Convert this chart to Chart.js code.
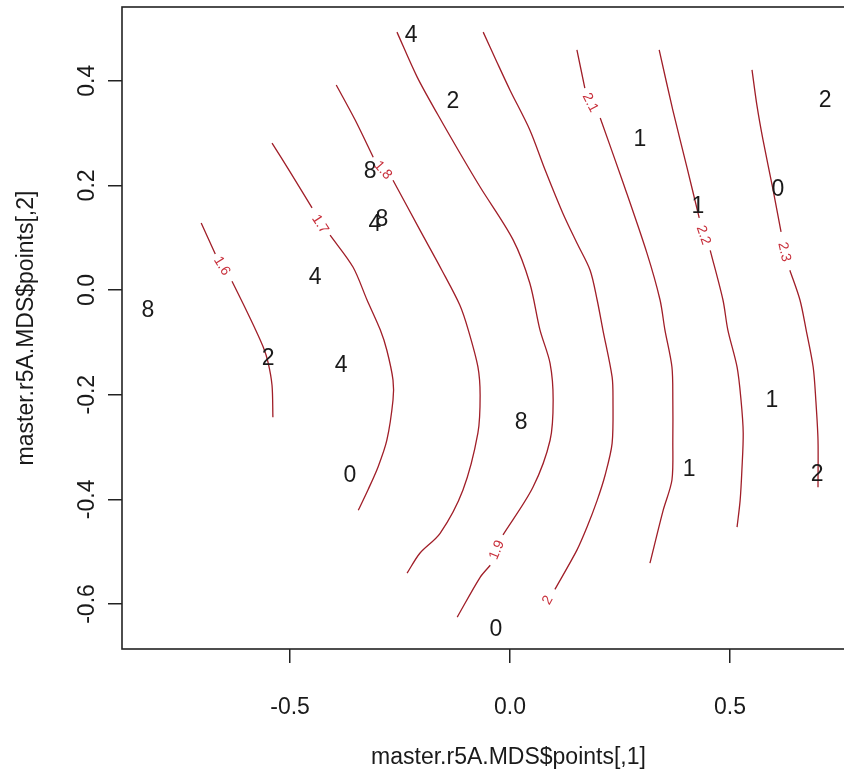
<!DOCTYPE html>
<html>
<head>
<meta charset="utf-8">
<title>master.r5A.MDS</title>
<style>
  html, body { margin: 0; padding: 0; background: #fff; overflow: hidden; }
  #wrap { width: 844px; height: 772px; overflow: hidden; }
  canvas { display: block; }
</style>
<script src="https://cdn.jsdelivr.net/npm/chart.js@4/dist/chart.umd.min.js"></script>
</head>
<body>
<div id="wrap"><canvas id="c" width="900" height="772"></canvas></div>
<script>
// MDS configuration: coordinates of each labelled item and its label
const pointX = [-0.823, -0.225, -0.130, -0.318, -0.307, -0.291, -0.443, -0.550, -0.384, -0.364,
                0.025, -0.032, 0.295, 0.716, 0.609, 0.427, 0.595, 0.407, 0.698];
const pointY = [-0.036, 0.489, 0.363, 0.229, 0.128, 0.138, 0.027, -0.128, -0.140, -0.352,
                -0.249, -0.646, 0.291, 0.365, 0.195, 0.163, -0.207, -0.340, -0.350];
const pointText = ['8', '4', '2', '8', '4', '8', '4', '2', '4', '0',
                   '8', '0', '1', '2', '0', '1', '1', '1', '2'];

// fitted surface contours (null = break where the level label sits)
const contourLevels = ['1.6', '1.7', '1.8', '1.9', '2', '2.1', '2.2', '2.3'];
const c16X = [-0.702, -0.670, null, -0.632, -0.605, -0.580, -0.561, -0.550, -0.541, -0.539];
const c16Y = [0.128, 0.069, null, 0.017, -0.029, -0.073, -0.109, -0.138, -0.182, -0.243];
const c17X = [-0.541, -0.500, -0.450, null, -0.409, -0.357, -0.325, -0.295, -0.280, -0.266, -0.266, -0.280, -0.300, -0.323, -0.345];
const c17Y = [0.281, 0.226, 0.157, null, 0.105, 0.044, -0.019, -0.076, -0.115, -0.172, -0.210, -0.287, -0.338, -0.382, -0.421];
const c18X = [-0.395, -0.352, -0.311, null, -0.266, -0.205, -0.155, -0.114, -0.095, -0.073, -0.068, -0.073, -0.107, -0.159, -0.205, -0.234];
const c18Y = [0.392, 0.325, 0.254, null, 0.210, 0.115, 0.038, -0.029, -0.076, -0.147, -0.201, -0.273, -0.382, -0.465, -0.503, -0.541];
const c19X = [-0.257, -0.211, -0.164, -0.114, -0.068, 0.007, 0.045, 0.068, 0.091, 0.098, 0.091, 0.052, -0.016, null, -0.045, -0.068, -0.120];
const c19Y = [0.493, 0.407, 0.335, 0.262, 0.197, 0.096, 0.013, -0.076, -0.140, -0.210, -0.287, -0.377, -0.468, null, -0.526, -0.549, -0.625];
const c20X = [-0.061, -0.030, 0.000, 0.045, 0.080, 0.120, 0.152, 0.182, 0.198, 0.211, 0.232, 0.234, 0.232, 0.216, 0.198, 0.175, 0.152, 0.102];
const c20Y = [0.493, 0.436, 0.382, 0.306, 0.229, 0.147, 0.090, 0.038, -0.019, -0.076, -0.166, -0.210, -0.293, -0.354, -0.402, -0.453, -0.497, -0.572];
const c21X = [0.152, 0.170, null, 0.205, 0.257, 0.311, 0.341, 0.352, 0.368, 0.370, 0.370, 0.368, 0.348, 0.318];
const c21Y = [0.459, 0.386, null, 0.329, 0.205, 0.071, -0.019, -0.076, -0.147, -0.210, -0.287, -0.363, -0.421, -0.522];
const c22X = [0.339, 0.370, 0.402, 0.430, null, 0.455, 0.484, 0.495, 0.516, 0.525, 0.530, 0.527, 0.523, 0.516];
const c22Y = [0.459, 0.344, 0.235, 0.138, null, 0.076, -0.019, -0.076, -0.147, -0.210, -0.273, -0.344, -0.402, -0.453];
const c23X = [0.550, 0.561, 0.575, 0.598, 0.616, null, 0.636, 0.659, 0.673, 0.689, 0.695, 0.700, 0.700];
const c23Y = [0.421, 0.354, 0.287, 0.191, 0.111, null, 0.038, -0.019, -0.076, -0.147, -0.210, -0.287, -0.377];
const contourLabelX = [-0.655, -0.432, -0.289, -0.030, 0.086, 0.182, 0.439, 0.623];
const contourLabelY = [0.046, 0.126, 0.229, -0.497, -0.593, 0.358, 0.105, 0.073];

// axes
const xRange = [-0.882, 0.875];
const yRange = [-0.686, 0.541];
const xTicks = [-0.5, 0, 0.5];
const xTickText = ['-0.5', '0.0', '0.5'];
const yTicks = [-0.6, -0.4, -0.2, 0, 0.2, 0.4];
const yTickText = ['-0.6', '-0.4', '-0.2', '0.0', '0.2', '0.4'];
const xTitle = 'master.r5A.MDS$points[,1]';
const yTitle = 'master.r5A.MDS$points[,2]';

const contourX = [c16X, c17X, c18X, c19X, c20X, c21X, c22X, c23X];
const contourY = [c16Y, c17Y, c18Y, c19Y, c20Y, c21Y, c22Y, c23Y];

const FONT = '"Liberation Sans", Arial, sans-serif';
const TEXT_SIZE = 23;
const LINE_RED = '#a01e28';
const LABEL_RED = '#c8303c';
const INK = '#1a1a1a';

const datasets = contourX.map((xs, k) => ({
  label: contourLevels[k],
  data: xs.map((x, i) => ({ x: x, y: contourY[k][i] })),
  showLine: true,
  spanGaps: false,
  borderColor: LINE_RED,
  borderWidth: 1.3,
  tension: 0.3,
  pointRadius: 0,
  pointHoverRadius: 0,
  fill: false
}));
datasets.push({
  label: 'items',
  data: pointX.map((x, i) => ({ x: x, y: pointY[i] })),
  showLine: false,
  pointRadius: 0,
  pointHoverRadius: 0
});
const ITEMS = datasets.length - 1;

function tickText(values, texts) {
  return function (v) {
    const i = values.findIndex(t => Math.abs(t - v) < 1e-9);
    return i < 0 ? '' : texts[i];
  };
}

// item labels, centred on their coordinates
const itemLabels = {
  id: 'itemLabels',
  afterDatasetsDraw(chart) {
    const ctx = chart.ctx;
    const meta = chart.getDatasetMeta(ITEMS);
    ctx.save();
    ctx.font = TEXT_SIZE + 'px ' + FONT;
    ctx.fillStyle = INK;
    ctx.textAlign = 'center';
    ctx.textBaseline = 'alphabetic';
    meta.data.forEach((pt, i) => {
      ctx.fillText(pointText[i], pt.x, pt.y + TEXT_SIZE * 0.358);
    });
    ctx.restore();
  }
};

// level labels written along each contour
const contourLabels = {
  id: 'contourLabels',
  afterDatasetsDraw(chart) {
    const { ctx, scales: { x, y } } = chart;
    ctx.save();
    ctx.font = '14px ' + FONT;
    ctx.fillStyle = LABEL_RED;
    ctx.textAlign = 'center';
    ctx.textBaseline = 'middle';
    contourLevels.forEach((lev, k) => {
      const xs = contourX[k], ys = contourY[k];
      const gap = ys.indexOf(null);
      let i0, i1;
      if (gap > 0) { i0 = gap - 1; i1 = gap + 1; } else { i0 = xs.length - 2; i1 = xs.length - 1; }
      const dx = x.getPixelForValue(xs[i1]) - x.getPixelForValue(xs[i0]);
      const dy = y.getPixelForValue(ys[i1]) - y.getPixelForValue(ys[i0]);
      let a = Math.atan2(dy, dx);
      if (a > Math.PI / 2) a -= Math.PI;
      if (a < -Math.PI / 2) a += Math.PI;
      ctx.save();
      ctx.translate(x.getPixelForValue(contourLabelX[k]), y.getPixelForValue(contourLabelY[k]));
      ctx.rotate(a);
      ctx.fillText(lev, 0, 0);
      ctx.restore();
    });
    ctx.restore();
  }
};

// plot frame
const frame = {
  id: 'frame',
  afterDraw(chart) {
    const { ctx, chartArea: a } = chart;
    ctx.save();
    ctx.strokeStyle = '#222';
    ctx.lineWidth = 1.6;
    ctx.strokeRect(a.left, a.top, a.right - a.left, a.bottom - a.top);
    ctx.restore();
  }
};

new Chart(document.getElementById('c'), {
  type: 'scatter',
  data: { datasets: datasets },
  plugins: [itemLabels, contourLabels, frame],
  options: {
    responsive: false,
    animation: false,
    devicePixelRatio: 1,
    events: [],
    layout: { padding: { left: 0, top: 7, right: 5, bottom: 0 } },
    plugins: { legend: { display: false }, tooltip: { enabled: false } },
    scales: {
      x: {
        type: 'linear',
        min: xRange[0],
        max: xRange[1],
        afterBuildTicks: s => { s.ticks = xTicks.map(v => ({ value: v })); },
        afterFit: s => { s.height = 123; s.paddingLeft = 0; s.paddingRight = 0; },
        grid: { drawOnChartArea: false, drawTicks: true, tickLength: 14, color: '#222', lineWidth: 1.5 },
        border: { display: false },
        ticks: {
          autoSkip: false, maxRotation: 0, minRotation: 0, padding: 31,
          color: INK, font: { family: FONT, size: TEXT_SIZE },
          callback: tickText(xTicks, xTickText)
        },
        title: {
          display: true, text: xTitle, color: INK,
          font: { family: FONT, size: TEXT_SIZE }, padding: { top: 0, bottom: 1 }
        }
      },
      y: {
        type: 'linear',
        min: yRange[0],
        max: yRange[1],
        afterBuildTicks: s => { s.ticks = yTicks.map(v => ({ value: v })); },
        afterFit: s => { s.width = 122; s.paddingTop = 0; s.paddingBottom = 0; },
        grid: { drawOnChartArea: false, drawTicks: true, tickLength: 14, color: '#222', lineWidth: 1.5 },
        border: { display: false },
        ticks: {
          autoSkip: false, minRotation: 90, maxRotation: 90, crossAlign: 'center', padding: 1,
          color: INK, font: { family: FONT, size: TEXT_SIZE },
          callback: tickText(yTicks, yTickText)
        },
        title: {
          display: true, text: yTitle, color: INK,
          font: { family: FONT, size: TEXT_SIZE }, padding: { top: 13, bottom: 0 }
        }
      }
    }
  }
});
</script>
</body>
</html>
